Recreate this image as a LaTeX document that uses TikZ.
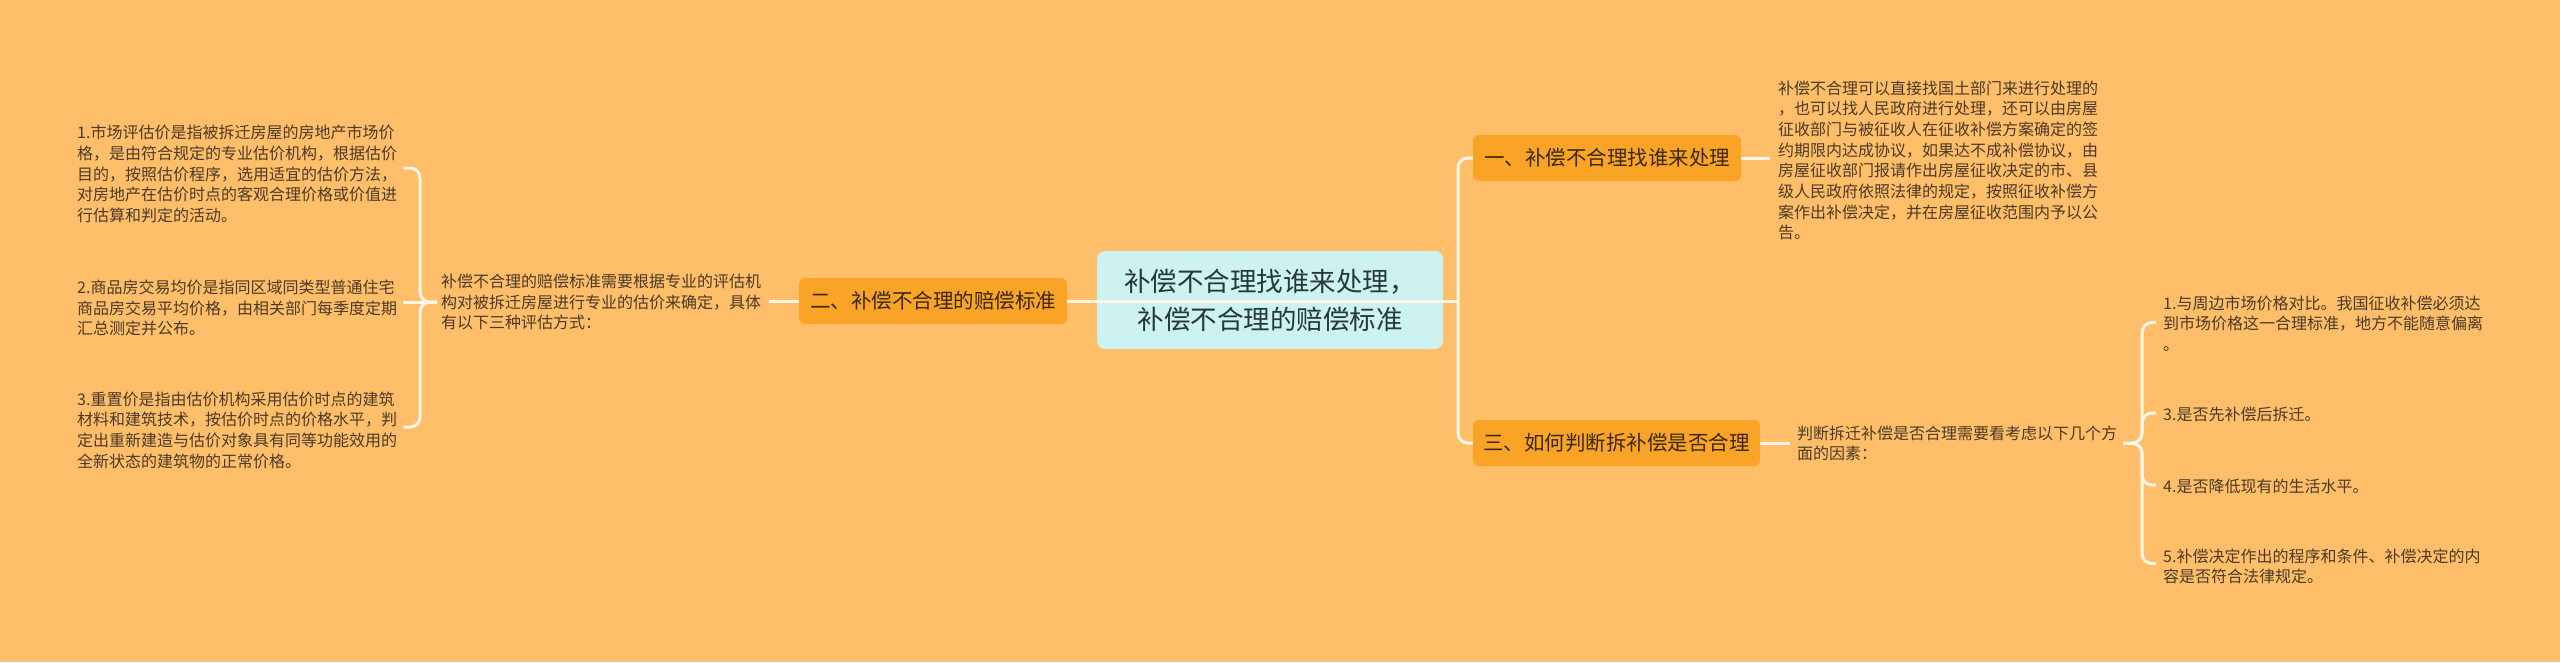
\documentclass[tikz,border=0pt]{standalone}
\usepackage{fontspec}
\setmainfont{Noto Sans CJK SC}
\definecolor{bg}{HTML}{FFBE6A}
\definecolor{topicfill}{HTML}{F9A426}
\definecolor{centerfill}{HTML}{CCF3EF}
\definecolor{linec}{HTML}{FFF6E8}
\definecolor{leaftext}{HTML}{4A3A26}
\definecolor{topictext}{HTML}{3A2810}
\definecolor{centertext}{HTML}{27383C}
\tikzset{
  topic/.style={fill=topicfill, rounded corners=6pt, minimum height=46pt, inner sep=0pt,
    font=\fontsize{20.5}{24}\selectfont, text=topictext},
  leaf/.style={anchor=west, align=left, inner sep=0pt,
    font=\fontsize{16}{20.7}\selectfont, text=leaftext},
  conn/.style={draw=linec, line width=3pt, rounded corners=10pt}
}
\begin{document}
\begin{tikzpicture}[x=1pt,y=-1pt]
\useasboundingbox (0,0) rectangle (2560,662);
\fill[bg] (0,0) rectangle (2560,662);

% center
\node[fill=centerfill, rounded corners=8pt, minimum width=346pt, minimum height=98pt, inner sep=0pt,
  align=center, font=\fontsize{26.5}{38}\selectfont, text=centertext] (c) at (1270,300)
  {补偿不合理找谁来处理，\\补偿不合理的赔偿标准};

% topics
\node[topic, minimum width=268pt] (n1) at (1607,158) {一、补偿不合理找谁来处理};
\node[topic, minimum width=268pt] (n2) at (933,301) {二、补偿不合理的赔偿标准};
\node[topic, minimum width=287pt] (n3) at (1616.5,443) {三、如何判断拆补偿是否合理};

% details
\node[leaf, font=\fontsize{16}{20.7}\selectfont] (d1) at (1778,160.5) {补偿不合理可以直接找国土部门来进行处理的\\，也可以找人民政府进行处理，还可以由房屋\\征收部门与被征收人在征收补偿方案确定的签\\约期限内达成协议，如果达不成补偿协议，由\\房屋征收部门报请作出房屋征收决定的市、县\\级人民政府依照法律的规定，按照征收补偿方\\案作出补偿决定，并在房屋征收范围内予以公\\告。};
\node[leaf] (d2) at (441,302) {补偿不合理的赔偿标准需要根据专业的评估机\\构对被拆迁房屋进行专业的估价来确定，具体\\有以下三种评估方式：};
\node[leaf] (d3) at (1797,443.5) {判断拆迁补偿是否合理需要看考虑以下几个方\\面的因素：};

% left leaves
\node[leaf] (l1) at (77,174) {1.市场评估价是指被拆迁房屋的房地产市场价\\格，是由符合规定的专业估价机构，根据估价\\目的，按照估价程序，选用适宜的估价方法，\\对房地产在估价时点的客观合理价格或价值进\\行估算和判定的活动。};
\node[leaf] (l2) at (77,308) {2.商品房交易均价是指同区域同类型普通住宅\\商品房交易平均价格，由相关部门每季度定期\\汇总测定并公布。};
\node[leaf] (l3) at (77,430) {3.重置价是指由估价机构采用估价时点的建筑\\材料和建筑技术，按估价时点的价格水平，判\\定出重新建造与估价对象具有同等功能效用的\\全新状态的建筑物的正常价格。};

% right leaves
\node[leaf] (r1) at (2163,323.5) {1.与周边市场价格对比。我国征收补偿必须达\\到市场价格这一合理标准，地方不能随意偏离\\。};
\node[leaf] (r3) at (2163,414) {3.是否先补偿后拆迁。};
\node[leaf] (r4) at (2163,486) {4.是否降低现有的生活水平。};
\node[leaf] (r5) at (2163,566.5) {5.补偿决定作出的程序和条件、补偿决定的内\\容是否符合法律规定。};

% bus coordinates
\coordinate (bM) at (1458,301);
\coordinate (bL) at (420,302);
\coordinate (bR) at (2142,443);

% connectors
\draw[conn] (n2.east) -- (bM);
\draw[conn] (bM) |- (n1.west);
\draw[conn] (bM) |- (n3.west);
\draw[conn] (n1.east) -- ([xshift=-8pt]d1.west |- n1.east);
\draw[conn] (n3.east) -- ([xshift=-7pt]d3.west |- n3.east);
\draw[conn] ([xshift=-30pt]n2.west) -- (n2.west);
\draw[conn] ([xshift=-4pt]d2.west) -- (bL) |- ([shift={(6,-6)}]l1.east);
\draw[conn] ([xshift=-4pt]d2.west) -- ([shift={(6,-6)}]l2.east);
\draw[conn] ([xshift=-4pt]d2.west) -- (bL) |- ([shift={(6,-3)}]l3.east);
\draw[conn] ([xshift=6pt]d3.east) -- (bR) |- ([shift={(-7,-1)}]r1.west);
\draw[conn] ([xshift=6pt]d3.east) -- (bR) |- ([shift={(-7,-1)}]r3.west);
\draw[conn] ([xshift=6pt]d3.east) -- (bR) |- ([shift={(-7,-1)}]r4.west);
\draw[conn] ([xshift=6pt]d3.east) -- (bR) |- ([shift={(-7,-3)}]r5.west);
\end{tikzpicture}
\end{document}
